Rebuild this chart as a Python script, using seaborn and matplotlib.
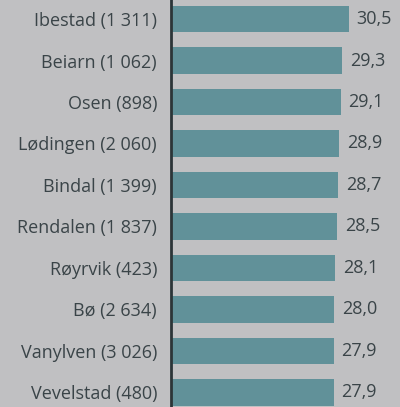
import matplotlib
matplotlib.use('Agg')
import matplotlib.pyplot as plt
import seaborn as sns
import pandas as pd

kommuner = ['Ibestad', 'Beiarn', 'Osen', 'Lødingen', 'Bindal',
            'Rendalen', 'Røyrvik', 'Bø', 'Vanylven', 'Vevelstad']
innbyggere = ['1 311', '1 062', '898', '2 060', '1 399',
              '1 837', '423', '2 634', '3 026', '480']
verdier = [30.5, 29.3, 29.1, 28.9, 28.7, 28.5, 28.1, 28.0, 27.9, 27.9]

labels = [f'{k} ({n})' for k, n in zip(kommuner, innbyggere)]
df = pd.DataFrame({'label': labels, 'verdi': verdier})

BG = '#c0c0c2'
BAR = '#619199'
TEXT = '#3a4448'

sns.set_theme(style='white')
plt.rcParams['font.family'] = ['Open Sans', 'DejaVu Sans']

fig = plt.figure(figsize=(4.0, 4.07), dpi=100)
fig.patch.set_facecolor(BG)
ax = fig.add_axes([171 / 400, 0, 1 - 171 / 400, 1])
ax.set_facecolor(BG)

sns.barplot(data=df, x='verdi', y='label', color=BAR, saturation=1,
            width=0.63, linewidth=0, ax=ax)

for i, v in enumerate(verdier):
    ax.text(v + 1.35, i, f'{v:.1f}'.replace('.', ','), va='center', ha='left',
            fontsize=13, color=TEXT)

ax.set_xlim(0, 229 / 5.83)
ax.set_ylim(9.35, -0.458)
ax.set_xlabel('')
ax.set_ylabel('')
ax.set_xticks([])
ax.tick_params(axis='y', length=0, pad=10, labelsize=13, labelcolor=TEXT)
for s in ['top', 'right', 'bottom']:
    ax.spines[s].set_visible(False)
ax.spines['left'].set_color('#2c3538')
ax.spines['left'].set_linewidth(2)

fig.savefig('out.png', dpi=100, facecolor=BG)
